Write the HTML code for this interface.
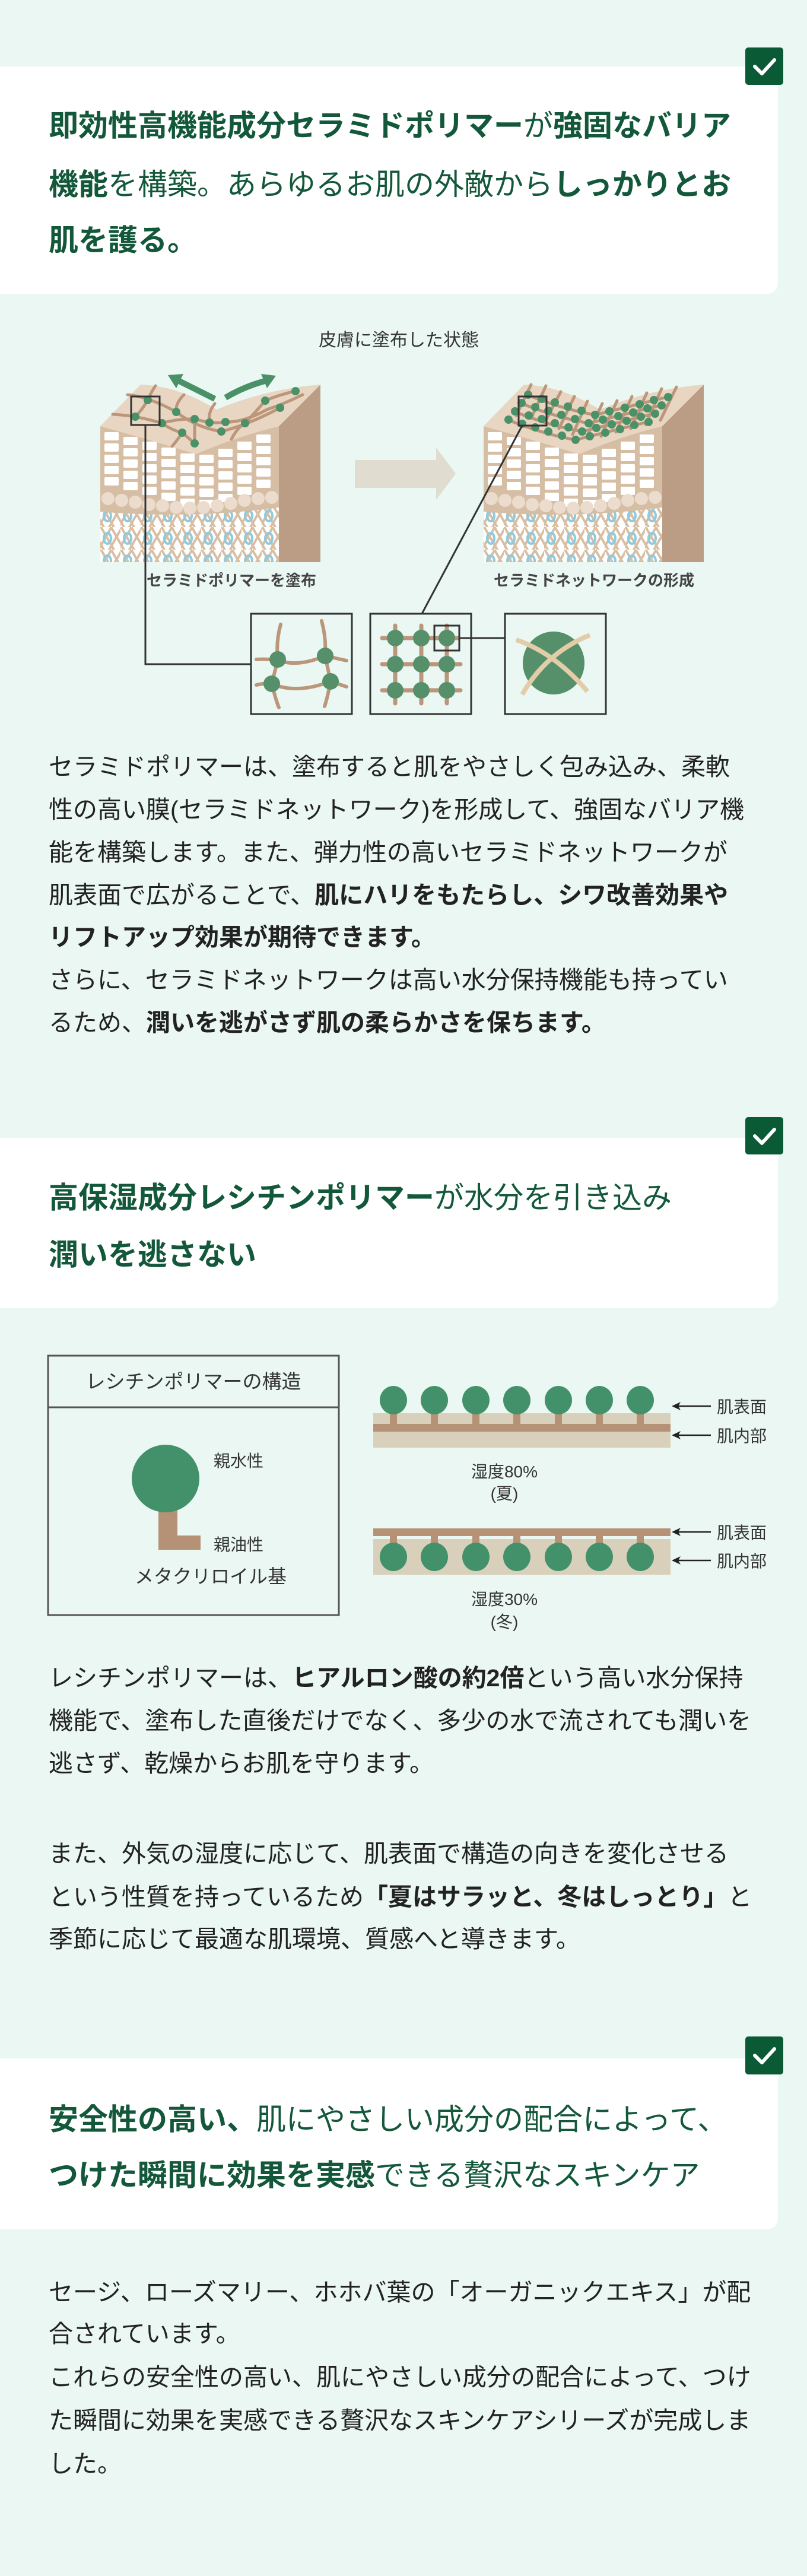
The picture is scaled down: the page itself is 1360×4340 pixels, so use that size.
<!DOCTYPE html>
<html><head><meta charset="utf-8"><style>
html,body{margin:0;padding:0;background:#eaf7f2;}
svg{display:block;}
text{font-family:"Liberation Sans","Noto Sans CJK JP",sans-serif;}
</style></head><body>
<svg width="1360" height="4340" viewBox="0 0 1360 4340" xmlns="http://www.w3.org/2000/svg">
<defs>
<pattern id="derm" x="169" y="850" width="34" height="38" patternUnits="userSpaceOnUse">
<rect width="34" height="38" fill="#fff"/>
<path d="M-4,40 L20,-2 M14,40 L38,-2 M0,-2 L24,40 M-17,-2 L7,40 M17,-2 L41,40" stroke="#d8bea2" stroke-width="4"/>
<ellipse cx="12" cy="19" rx="6" ry="9" fill="none" stroke="#8ecae0" stroke-width="4"/>
</pattern>
<g id="col">
<rect x="0" y="0" width="24" height="14" rx="2" fill="#fff"/>
<rect x="0" y="19" width="24" height="14" rx="2" fill="#fff"/>
<rect x="0" y="38" width="24" height="14" rx="2" fill="#fff"/>
<rect x="0" y="57" width="24" height="14" rx="2" fill="#fff"/>
<rect x="0" y="76" width="24" height="14" rx="2" fill="#fff"/>
</g>
<g id="skin">
<path d="M470,718 L540,648 L540,947 L470,947 Z" fill="#bb9d85"/>
<path d="M169,718 Q250,740 330,765 Q400,735 470,718 L470,947 L169,947 Z" fill="#d6bea4"/>
<use href="#col" x="176" y="728"/><use href="#col" x="208" y="736"/><use href="#col" x="240" y="744"/>
<use href="#col" x="272" y="754"/><use href="#col" x="304" y="764"/><use href="#col" x="336" y="766"/>
<use href="#col" x="368" y="756"/><use href="#col" x="400" y="744"/><use href="#col" x="432" y="732"/>
<g fill="#ecdccd">
<circle cx="182" cy="840" r="11"/><circle cx="205" cy="843" r="11"/><circle cx="228" cy="846" r="11"/>
<circle cx="251" cy="850" r="11"/><circle cx="274" cy="852" r="11"/><circle cx="297" cy="855" r="11"/>
<circle cx="320" cy="856" r="11"/><circle cx="343" cy="855" r="11"/><circle cx="366" cy="852" r="11"/>
<circle cx="389" cy="848" r="11"/><circle cx="412" cy="843" r="11"/><circle cx="435" cy="840" r="11"/><circle cx="458" cy="838" r="11"/>
</g>
<path d="M169,862 Q320,875 470,855 L470,947 L169,947 Z" fill="url(#derm)"/>
<path d="M169,718 L237,648 Q300,650 365,690 Q450,655 540,648 L470,718 Q400,735 330,765 Q250,740 169,718 Z" fill="#e8d5c2"/>
</g>
<g id="dotrow">
<path d="M888,665 Q950,690 1003,699 Q1060,685 1128,668" fill="none" stroke="#bc967a" stroke-width="5"/>
<g fill="#4a9168">
<circle cx="890" cy="665" r="7"/><circle cx="913" cy="672" r="7"/><circle cx="935" cy="678" r="7"/>
<circle cx="957" cy="685" r="7"/><circle cx="980" cy="692" r="7"/><circle cx="1003" cy="699" r="7"/>
<circle cx="1027" cy="693" r="7"/><circle cx="1053" cy="687" r="7"/><circle cx="1078" cy="681" r="7"/>
<circle cx="1102" cy="674" r="7"/><circle cx="1126" cy="669" r="7"/>
</g>
</g>
</defs>

<!-- card 1 -->
<path d="M0,112 H1293 A18,18 0 0 1 1311,130 V477 A18,18 0 0 1 1293,495 H0 Z" fill="#fff"/>
<rect x="1256" y="80" width="64" height="63" rx="5" fill="#0b5a36"/>
<path d="M1272,112 L1284,124 L1305,101" fill="none" stroke="#fff" stroke-width="6" stroke-linecap="round" stroke-linejoin="round"/>
<g font-size="50" fill="#13583a">
<text x="82" y="229"><tspan font-weight="bold">即効性高機能成分セラミドポリマー</tspan>が<tspan font-weight="bold">強固なバリア</tspan></text>
<text x="82" y="328"><tspan font-weight="bold">機能</tspan>を構築。あらゆるお肌の外敵から<tspan font-weight="bold">しっかりとお</tspan></text>
<text x="82" y="422" font-weight="bold">肌を護る。</text>
</g>

<!-- diagram 1 -->
<text x="672" y="583" font-size="30" fill="#333" text-anchor="middle">皮膚に塗布した状態</text>
<use href="#skin"/>
<use href="#skin" x="646"/>
<!-- left network -->
<g fill="none" stroke="#bc967a" stroke-width="5" stroke-linecap="round">
<path d="M190,698 Q230,700 273,713 Q300,705 328,706 Q360,715 380,711 Q410,712 450,690 Q480,680 510,665"/>
<path d="M215,665 Q250,668 297,694 Q330,720 373,727 Q420,715 472,687"/>
<path d="M228,702 Q240,690 249,674 Q255,660 262,650"/>
<path d="M273,713 Q290,725 307,729 Q320,740 328,747"/>
<path d="M297,694 Q295,680 310,665"/>
<path d="M328,706 Q328,730 328,747"/>
<path d="M353,712 Q350,695 362,680"/>
<path d="M307,729 Q300,740 290,752"/>
<path d="M413,713 Q430,695 447,675 Q470,665 498,659"/>
<path d="M390,740 Q400,720 413,713"/>
</g>
<g fill="#4a9168">
<circle cx="249" cy="674" r="7"/><circle cx="228" cy="702" r="7"/><circle cx="273" cy="713" r="7"/>
<circle cx="297" cy="694" r="7"/><circle cx="328" cy="706" r="7"/><circle cx="353" cy="712" r="7"/>
<circle cx="380" cy="711" r="7"/><circle cx="307" cy="729" r="7"/><circle cx="328" cy="747" r="7"/>
<circle cx="373" cy="727" r="7"/><circle cx="413" cy="713" r="7"/><circle cx="447" cy="675" r="7"/>
<circle cx="472" cy="687" r="7"/><circle cx="498" cy="659" r="7"/>
</g>
<g stroke="#4a9168" stroke-width="10" fill="none">
<path d="M362,672 L302,642"/>
<path d="M380,670 Q410,652 446,642"/>
</g>
<g fill="#4a9168">
<path d="M283,632 L309,630 L297,654 Z"/>
<path d="M465,633 L440,630 L450,654 Z"/>
</g>
<!-- right network -->
<g stroke="#bc967a" stroke-width="5" stroke-linecap="round">
<path d="M895,648 L870,700 M920,650 L895,705 M945,660 L918,712 M968,668 L942,722 M990,676 L965,732 M1015,680 L988,738 M1040,675 L1013,735 M1065,668 L1038,728 M1090,662 L1063,722 M1115,655 L1088,715 M1140,652 L1113,708"/>
</g>
<use href="#dotrow"/>
<use href="#dotrow" x="-11" y="14"/>
<use href="#dotrow" x="-22" y="28"/>
<use href="#dotrow" x="-33" y="42"/>
<path d="M598,775 H735 V754 L768,798 L735,842 V822 H598 Z" fill="#e0dccf"/>
<text x="390" y="987" font-size="26" fill="#444" font-weight="600" text-anchor="middle">セラミドポリマーを塗布</text>
<text x="1001" y="987" font-size="26" fill="#444" font-weight="600" text-anchor="middle">セラミドネットワークの形成</text>
<!-- squares and connectors -->
<g fill="none" stroke="#333" stroke-width="3">
<rect x="221" y="668" width="48" height="48"/>
<rect x="874" y="668" width="47" height="49"/>
<path d="M245,716 V1119 H423"/>
<path d="M880,717 L711,1034"/>
<rect x="423" y="1034" width="170" height="169"/>
<rect x="624" y="1034" width="170" height="169"/>
<rect x="851" y="1034" width="170" height="169"/>
</g>
<!-- box1 content -->
<g fill="none" stroke="#bc967a" stroke-width="6" stroke-linecap="round">
<path d="M432,1111 Q450,1110 468,1112 Q500,1125 548,1105 L584,1113"/>
<path d="M432,1154 Q450,1150 458,1152 Q500,1170 557,1148 L584,1157"/>
<path d="M473,1052 Q465,1080 468,1112 L458,1152 Q465,1180 470,1192"/>
<path d="M542,1046 Q550,1075 548,1105 L557,1148 Q552,1175 547,1190"/>
</g>
<g fill="#55906a">
<circle cx="468" cy="1111" r="14"/><circle cx="548" cy="1105" r="14"/>
<circle cx="458" cy="1152" r="14"/><circle cx="557" cy="1148" r="14"/>
</g>
<!-- box2 content -->
<g stroke="#bc967a" stroke-width="7" stroke-linecap="round">
<path d="M644,1075 H772 M644,1119 H776 M644,1163 H776 M666,1054 V1185 M710,1054 V1185 M753,1054 V1185"/>
</g>
<g fill="#55906a">
<ellipse cx="666" cy="1075" rx="14" ry="14"/><ellipse cx="710" cy="1075" rx="14" ry="14"/><ellipse cx="753" cy="1075" rx="14" ry="14"/>
<ellipse cx="666" cy="1119" rx="14" ry="14"/><ellipse cx="710" cy="1119" rx="14" ry="14"/><ellipse cx="753" cy="1119" rx="14" ry="14"/>
<ellipse cx="666" cy="1163" rx="14" ry="14"/><ellipse cx="710" cy="1163" rx="14" ry="14"/><ellipse cx="753" cy="1163" rx="14" ry="14"/>
</g>
<g fill="none" stroke="#333" stroke-width="3">
<rect x="732" y="1054" width="42" height="42"/>
<path d="M774,1075 H851"/>
</g>
<!-- box3 content -->
<ellipse cx="933" cy="1117" rx="52" ry="53" fill="#55906a"/>
<g fill="none" stroke-linecap="butt">
<path d="M870,1078 Q935,1100 990,1165" stroke="#e3cda9" stroke-width="8"/>
<path d="M880,1170 Q920,1100 994,1070" stroke="#e3cda9" stroke-width="8"/>
</g>

<!-- paragraph 1 -->
<g font-size="41" fill="#222">
<text x="82" y="1306">セラミドポリマーは、塗布すると肌をやさしく包み込み、柔軟</text>
<text x="82" y="1378">性の高い膜(セラミドネットワーク)を形成して、強固なバリア機</text>
<text x="82" y="1450">能を構築します。また、弾力性の高いセラミドネットワークが</text>
<text x="82" y="1522">肌表面で広がることで、<tspan font-weight="bold">肌にハリをもたらし、シワ改善効果や</tspan></text>
<text x="82" y="1593" font-weight="bold">リフトアップ効果が期待できます。</text>
<text x="82" y="1665">さらに、セラミドネットワークは高い水分保持機能も持ってい</text>
<text x="82" y="1737">るため、<tspan font-weight="bold">潤いを逃がさず肌の柔らかさを保ちます。</tspan></text>
</g>

<!-- card 2 -->
<path d="M0,1917 H1293 A18,18 0 0 1 1311,1935 V2186 A18,18 0 0 1 1293,2204 H0 Z" fill="#fff"/>
<rect x="1256" y="1882" width="64" height="63" rx="5" fill="#0b5a36"/>
<path d="M1272,1914 L1284,1926 L1305,1903" fill="none" stroke="#fff" stroke-width="6" stroke-linecap="round" stroke-linejoin="round"/>
<g font-size="50" fill="#13583a">
<text x="82" y="2035"><tspan font-weight="bold">高保湿成分レシチンポリマー</tspan>が水分を引き込み</text>
<text x="82" y="2131" font-weight="bold">潤いを逃さない</text>
</g>

<!-- lecithin box -->
<g fill="none" stroke="#555" stroke-width="3">
<rect x="81" y="2284" width="490" height="437"/>
<path d="M81,2371 H571"/>
</g>
<text x="326" y="2339" font-size="33" fill="#333" text-anchor="middle">レシチンポリマーの構造</text>
<path d="M267,2540 H299 V2587 H338 V2611 H267 Z" fill="#b59276"/>
<circle cx="279" cy="2491" r="57" fill="#43916a"/>
<text x="360" y="2471" font-size="28" fill="#333">親水性</text>
<text x="360" y="2612" font-size="28" fill="#333">親油性</text>
<text x="227" y="2667" font-size="32" fill="#333">メタクリロイル基</text>

<!-- humidity diagrams -->
<rect x="629" y="2381" width="501" height="58" fill="#d8d0bb"/>
<rect x="629" y="2399" width="501" height="13" fill="#b59276"/>
<g fill="#b59276">
<rect x="657" y="2370" width="12" height="30"/><rect x="726" y="2370" width="12" height="30"/><rect x="796" y="2370" width="12" height="30"/>
<rect x="865" y="2370" width="12" height="30"/><rect x="935" y="2370" width="12" height="30"/><rect x="1004" y="2370" width="12" height="30"/><rect x="1073" y="2370" width="12" height="30"/>
</g>
<g fill="#43916a">
<ellipse cx="663" cy="2359" rx="23" ry="24"/><ellipse cx="732" cy="2359" rx="23" ry="24"/><ellipse cx="802" cy="2359" rx="23" ry="24"/>
<ellipse cx="871" cy="2359" rx="23" ry="24"/><ellipse cx="941" cy="2359" rx="23" ry="24"/><ellipse cx="1010" cy="2359" rx="23" ry="24"/><ellipse cx="1079" cy="2359" rx="23" ry="24"/>
</g>
<rect x="629" y="2575" width="501" height="13" fill="#b59276"/>
<rect x="629" y="2593" width="501" height="60" fill="#d8d0bb"/>
<g fill="#b59276">
<rect x="657" y="2588" width="12" height="16"/><rect x="726" y="2588" width="12" height="16"/><rect x="796" y="2588" width="12" height="16"/>
<rect x="865" y="2588" width="12" height="16"/><rect x="935" y="2588" width="12" height="16"/><rect x="1004" y="2588" width="12" height="16"/><rect x="1073" y="2588" width="12" height="16"/>
</g>
<g fill="#43916a">
<ellipse cx="663" cy="2623" rx="23" ry="24"/><ellipse cx="732" cy="2623" rx="23" ry="24"/><ellipse cx="802" cy="2623" rx="23" ry="24"/>
<ellipse cx="871" cy="2623" rx="23" ry="24"/><ellipse cx="941" cy="2623" rx="23" ry="24"/><ellipse cx="1010" cy="2623" rx="23" ry="24"/><ellipse cx="1079" cy="2623" rx="23" ry="24"/>
</g>
<g stroke="#222" stroke-width="2.5">
<path d="M1140,2369 H1198 M1140,2418 H1198 M1140,2581 H1198 M1140,2629 H1198"/>
</g>
<g fill="#222">
<path d="M1132,2369 L1147,2362 L1143,2369 L1147,2376 Z"/>
<path d="M1132,2418 L1147,2411 L1143,2418 L1147,2425 Z"/>
<path d="M1132,2581 L1147,2574 L1143,2581 L1147,2588 Z"/>
<path d="M1132,2629 L1147,2622 L1143,2629 L1147,2636 Z"/>
</g>
<g font-size="28" fill="#333">
<text x="1208" y="2380">肌表面</text>
<text x="1208" y="2429">肌内部</text>
<text x="1208" y="2592">肌表面</text>
<text x="1208" y="2640">肌内部</text>
</g>
<g font-size="28" fill="#333" text-anchor="middle">
<text x="850" y="2489">湿度80%</text>
<text x="850" y="2526">(夏)</text>
<text x="850" y="2704">湿度30%</text>
<text x="850" y="2742">(冬)</text>
</g>

<!-- paragraph 2 -->
<g font-size="41" fill="#222">
<text x="82" y="2841">レシチンポリマーは、<tspan font-weight="bold">ヒアルロン酸の約2倍</tspan>という高い水分保持</text>
<text x="82" y="2913">機能で、塗布した直後だけでなく、多少の水で流されても潤いを</text>
<text x="82" y="2985">逃さず、乾燥からお肌を守ります。</text>
<text x="82" y="3137">また、外気の湿度に応じて、肌表面で構造の向きを変化させる</text>
<text x="82" y="3210">という性質を持っているため<tspan font-weight="bold">「夏はサラッと、冬はしっとり」</tspan>と</text>
<text x="82" y="3281">季節に応じて最適な肌環境、質感へと導きます。</text>
</g>

<!-- card 3 -->
<path d="M0,3468 H1293 A18,18 0 0 1 1311,3486 V3738 A18,18 0 0 1 1293,3756 H0 Z" fill="#fff"/>
<rect x="1256" y="3431" width="64" height="64" rx="5" fill="#0b5a36"/>
<path d="M1272,3463 L1284,3475 L1305,3452" fill="none" stroke="#fff" stroke-width="6" stroke-linecap="round" stroke-linejoin="round"/>
<g font-size="50" fill="#13583a">
<text x="82" y="3588"><tspan font-weight="bold">安全性の高い、</tspan>肌にやさしい成分の配合によって、</text>
<text x="82" y="3682"><tspan font-weight="bold">つけた瞬間に効果を実感</tspan>できる贅沢なスキンケア</text>
</g>

<!-- paragraph 3 -->
<g font-size="41" fill="#222">
<text x="82" y="3876">セージ、ローズマリー、ホホバ葉の「オーガニックエキス」が配</text>
<text x="82" y="3946">合されています。</text>
<text x="82" y="4019">これらの安全性の高い、肌にやさしい成分の配合によって、つけ</text>
<text x="82" y="4092">た瞬間に効果を実感できる贅沢なスキンケアシリーズが完成しま</text>
<text x="82" y="4165">した。</text>
</g>
</svg>
</body></html>
